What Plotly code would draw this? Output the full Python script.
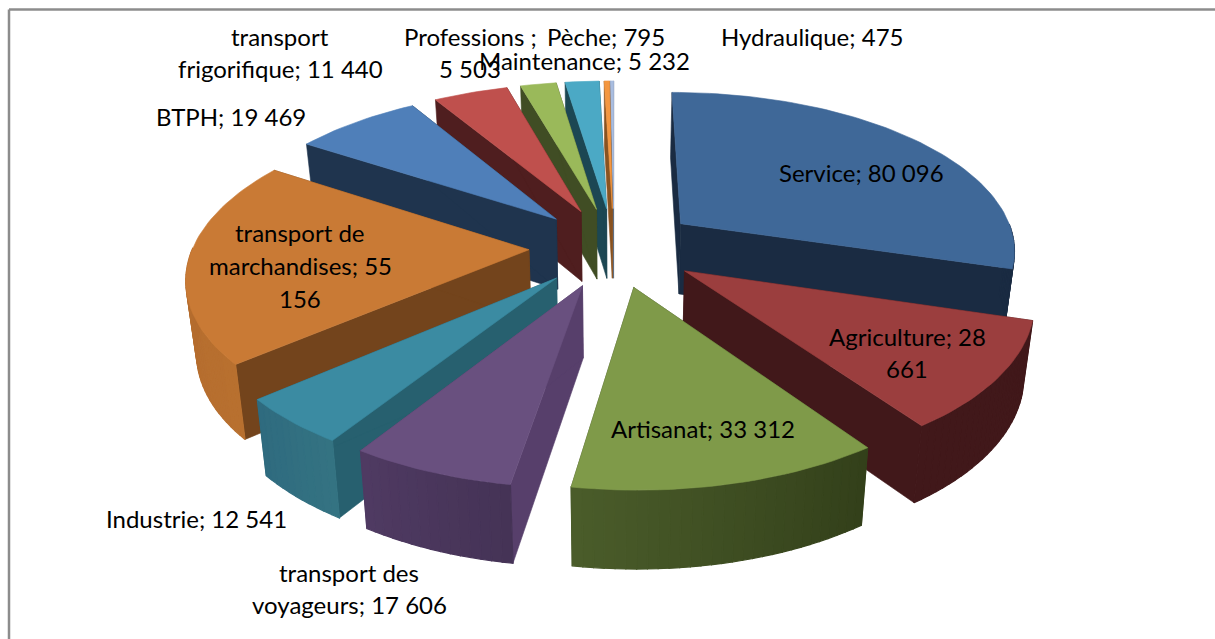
import math
import plotly.graph_objects as go

# ---- data ----
categories = ["Service", "Agriculture", "Artisanat", "transport des voyageurs", "Industrie",
              "transport de marchandises", "BTPH", "transport frigorifique", "Professions",
              "Maintenance", "Pèche", "Hydraulique"]
values = [80096, 28661, 33312, 17606, 12541, 55156, 19469, 11440, 5503, 5232, 795, 475]

top_colors = ["#3f6898", "#9b3e3e", "#7f9a49", "#69507f", "#3b8ba2", "#c97a35",
              "#4f7fb9", "#bf504d", "#9ab95a", "#4ba9c5", "#f49740", "#a9bde0"]
radial_colors = ["#1a2b42", "#41181a", "#3a4820", "#573f6b", "#27606f", "#73441c",
                 "#1f344e", "#4f1e1f", "#404d24", "#1c4753", "#8a5320", "#5a6a80"]
outer_start = ["#1a2b42", "#41181a", "#4a5c2a", "#4f3a62", "#2f6b7f", "#b0682d",
               "#2f4d73", "#6a2a28", "#5a6e30", "#2c6475", "#a86528", "#70809a"]
outer_end = ["#1a2b42", "#41181a", "#33401a", "#453356", "#347382", "#b8702f",
             "#2f4d73", "#6a2a28", "#5a6e30", "#2c6475", "#a86528", "#70809a"]

label_lines = [("Service; 80 096", 861, 172), ("Agriculture; 28", 907, 336), ("661", 907, 368),
               ("Artisanat; 33 312", 703, 428), ("transport des", 349, 572),
               ("voyageurs; 17 606", 349, 604), ("Industrie; 12 541", 196, 518),
               ("transport de", 300, 232), ("marchandises; 55", 300, 265), ("156", 300, 298),
               ("BTPH; 19 469", 231, 116), ("transport", 280, 36), ("frigorifique; 11 440", 280, 68),
               ("Professions ;", 470, 36), ("5 503", 470, 68), ("Pèche; 795", 606, 36),
               ("Maintenance; 5 232", 584, 60), ("Hydraulique; 475", 812, 36)]

# ---- camera / projection of the 3-D exploded pie ----
W, H = 1215, 639
CX, CY = 614, 247
R, PULL, D, K = 336, 85, 2200, 0.47
WALL, SHRINK = 71, 0.975
START_DEG = 0


def top(X, Y):
    s = D / (D - Y)
    return CX + X * s, CY + K * Y * s


def bottom(X, Y):
    s = D / (D - Y)
    x, y = top(X, Y)
    return CX + (x - CX) * SHRINK, y + WALL * math.sqrt(s)


def mix(a, b, t):
    pa = [int(a[i:i + 2], 16) for i in (1, 3, 5)]
    pb = [int(b[i:i + 2], 16) for i in (1, 3, 5)]
    return "#%02x%02x%02x" % tuple(round(u + (v - u) * t) for u, v in zip(pa, pb))


def poly(points, color, lw=0.6):
    xs, ys = zip(*points)
    return go.Scatter(x=list(xs) + [xs[0]], y=list(ys) + [ys[0]], mode="lines", fill="toself",
                      fillcolor=color, line=dict(color=color, width=lw),
                      hoverinfo="skip", showlegend=False)


total = sum(values)
wedges = []
a = START_DEG
for i, v in enumerate(values):
    sweep = 360 * v / total
    a0, a1 = math.radians(a), math.radians(a + sweep)
    a += sweep
    mid = (a0 + a1) / 2
    ox, oy = PULL * math.sin(mid), -PULL * math.cos(mid)
    n = max(2, int(sweep / 1.5))
    arc, angles = [], []
    for j in range(n + 1):
        t = a0 + (a1 - a0) * j / n
        arc.append((ox + R * math.sin(t), oy - R * math.cos(t)))
        angles.append(t)
    depth = oy - R * math.cos(mid) * 0.5
    wedges.append((depth, i, (ox, oy), arc, angles))

fig = go.Figure()
for depth, i, apex, arc, angles in sorted(wedges, key=lambda w: w[0]):
    # radial walls
    for edge in (arc[0], arc[-1]):
        fig.add_trace(poly([top(*apex), top(*edge), bottom(*edge), bottom(*apex)], radial_colors[i]))
    # curved outer wall, only where it faces the viewer, shaded step by step
    for j in range(len(arc) - 1):
        if math.cos((angles[j] + angles[j + 1]) / 2) > 0:
            continue
        t = j / max(1, len(arc) - 2)
        fig.add_trace(poly([top(*arc[j]), top(*arc[j + 1]), bottom(*arc[j + 1]), bottom(*arc[j])],
                           mix(outer_end[i], outer_start[i], t), lw=1.2))
    # top face
    fig.add_trace(poly([top(*apex)] + [top(*p) for p in arc], top_colors[i]))

annotations = [dict(x=x, y=y, text=t, showarrow=False, xanchor="center", yanchor="middle",
                    font=dict(family="Lato", size=24, color="#000000")) for t, x, y in label_lines]

frame = dict(color="#8c8c8c", width=2.5)
fig.update_layout(
    width=W, height=H, margin=dict(l=0, r=0, t=0, b=0),
    paper_bgcolor="#ffffff", plot_bgcolor="#ffffff", showlegend=False,
    xaxis=dict(range=[0, W], visible=False, fixedrange=True),
    yaxis=dict(range=[H, 0], visible=False, fixedrange=True),
    annotations=annotations,
    shapes=[dict(type="line", x0=9, x1=W, y0=9.5, y1=9.5, line=frame),
            dict(type="line", x0=9, x1=9, y0=9.5, y1=H, line=frame)],
)
fig.write_html("out.html", config=dict(displayModeBar=False),
               post_script="document.body.style.margin='0';document.documentElement.style.overflow='hidden';")
